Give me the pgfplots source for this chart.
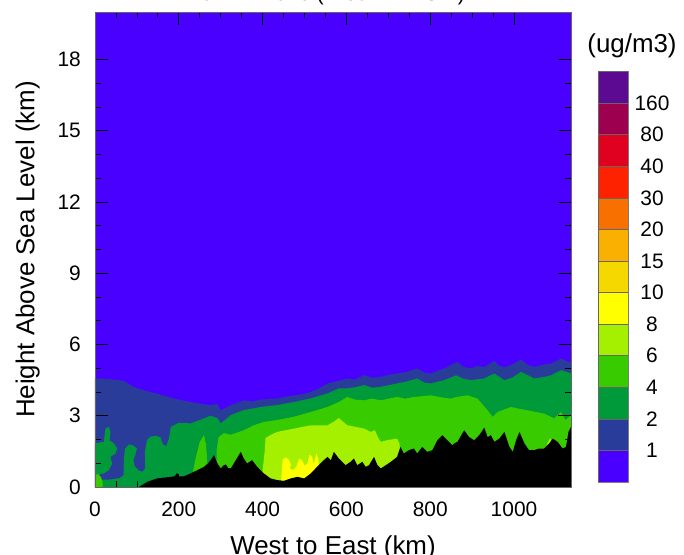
\documentclass[border=0pt]{standalone}
\usepackage{fontspec}
\setmainfont{Liberation Sans}
\usepackage{pgfplots}
\pgfplotsset{compat=1.18}
\usetikzlibrary{calc}

% colour table of the 13 bins, top to bottom
\definecolor{cA}{HTML}{5B0A91}
\definecolor{cB}{HTML}{9E0050}
\definecolor{cC}{HTML}{E00020}
\definecolor{cD}{HTML}{FF2200}
\definecolor{cE}{HTML}{F77000}
\definecolor{cF}{HTML}{F9B000}
\definecolor{cG}{HTML}{F5D800}
\definecolor{cH}{HTML}{FFFF00}
\definecolor{cI}{HTML}{A5F000}
\definecolor{cJ}{HTML}{38CC00}
\definecolor{cK}{HTML}{009A3A}
\definecolor{cL}{HTML}{2A3C9A}
\definecolor{cM}{HTML}{4A00FF}

\newcommand\ticksz{\fontsize{21}{24}\selectfont}
\newcommand\labsz{\fontsize{26}{30}\selectfont}

\begin{document}
\begin{tikzpicture}
\begin{axis}[
  name=ax, at={(0,0)}, anchor=south west,
  scale only axis, width=476bp, height=475bp,
  xmin=0, xmax=1136, ymin=0, ymax=20,
  xtick={0,200,...,1000}, minor x tick num=3,
  ytick={0,3,...,18}, minor y tick num=2,
  tick align=inside, tick pos=both,
  major tick length=13bp, minor tick length=6bp,
  tick style={black, line width=0.8pt},
  axis line style={draw=black!60, line width=0.7pt},
  axis background/.style={fill=cM},
  axis on top,
  /pgf/number format/assume math mode=true,
  /pgf/number format/1000 sep={},
  xticklabel style={font=\ticksz, anchor=north, inner sep=0pt, yshift=-15bp},
  yticklabel style={font=\ticksz, anchor=east, inner sep=0pt, xshift=-14bp},
  xlabel={West to East (km)},
  ylabel={Height Above Sea Level (km)},
  xlabel style={font=\labsz, at={(axis description cs:0.5,-0.103)}, anchor=north, inner sep=0pt},
  ylabel style={font=\labsz, at={(axis description cs:-0.167,0.5)}, anchor=north, inner sep=0pt},
  title={07-12-2016 ( Hour 11 PST )},
  title style={font=\fontsize{21.5}{24}\selectfont, at={(axis description cs:0.5,1.0126)}, anchor=base, inner sep=0pt},
]
% 1-2 layer
\addplot[fill=cL, draw=none] coordinates {
 (0,4.57) (30,4.55) (55,4.5) (69,4.47) (92,4.21) (120,4.05) (148,3.93) (188,3.72)
 (228,3.58) (276,3.44) (292,3.5) (300,3.23) (324,3.44) (355,3.65) (375,3.6) (395,3.68)
 (435,3.72) (455,3.8) (475,3.86) (495,3.9) (515,4.0) (535,4.15) (555,4.36) (582,4.47)
 (602,4.57) (620,4.52) (642,4.71) (662,4.6) (682,4.64) (700,4.72) (721,4.78) (745,4.85)
 (769,4.99) (785,4.82) (801,4.78) (818,4.9) (833,4.99) (849,5.13) (865,5.26) (880,5.05)
 (897,4.99) (913,5.1) (929,5.05) (953,5.31) (965,5.1) (977,5.05) (995,5.15) (1017,5.37)
 (1032,5.15) (1048,5.05) (1068,5.15) (1088,5.2) (1100,5.3) (1112,5.41) (1125,5.3) (1136,5.26)
 (1136,0) (0,0)};
% 2-4 layer, main body
\addplot[fill=cK, draw=none] coordinates {
 (181,2.53) (200,2.7) (228,2.68) (250,2.82) (276,3.0) (292,2.9) (300,2.68) (312,2.85)
 (324,3.03) (355,3.24) (375,3.3) (395,3.37) (435,3.45) (475,3.58) (515,3.73) (555,3.94)
 (582,4.15) (602,4.15) (620,4.2) (642,4.29) (662,4.18) (682,4.22) (721,4.36) (745,4.45)
 (769,4.57) (785,4.4) (801,4.36) (833,4.5) (862,4.7) (880,4.55) (897,4.5) (929,4.57)
 (953,4.78) (977,4.5) (995,4.6) (1017,4.85) (1048,4.57) (1068,4.62) (1088,4.7) (1112,4.92)
 (1136,4.78) (1136,0) (10,0) (10,0.3) (40,0.32) (60,0.38) (68,0.5) (69,1.2) (72,1.62)
 (80,1.78) (90,1.76) (100,1.62) (96,1.34) (92,1.15) (94,0.9) (104,0.7) (114,0.64)
 (120,0.8) (119,1.5) (124,1.97) (132,2.12) (145,2.15) (156,2.1) (162,1.8) (170,1.72) (176,2.0)};
% 2-4 layer, patch at the western edge
\addplot[fill=cK, draw=none] coordinates {
 (0,1.84) (21,1.9) (25,2.46) (33,2.53) (37,2.32) (35,1.97) (45,1.84) (53,1.62) (49,1.41)
 (37,1.27) (41,0.99) (33,0.71) (21,0.57) (0,0.5)};
% 4-6 layer
\addplot[fill=cJ, draw=none] coordinates {
 (0,0) (0,0.5) (8,0.55) (15,0.4) (18,0.2) (18,0)};
\addplot[fill=cJ, draw=none] coordinates {
 (225,0) (232,0.5) (240,1.2) (250,1.9) (260,2.18) (265,1.8) (268,1.0) (272,0.8) (272,0)};
\addplot[fill=cJ, draw=none] coordinates {
 (290,0) (290,1.5) (295,2.1) (308,2.27) (324,2.2) (355,2.39) (379,2.6) (403,2.74)
 (435,2.82) (475,2.96) (515,3.16) (555,3.37) (582,3.58) (602,3.79) (620,3.68) (642,3.65)
 (660,3.72) (682,3.65) (721,3.79) (740,3.72) (761,3.79) (801,3.86) (825,3.78) (849,3.72)
 (862,3.79) (889,3.86) (913,3.72) (937,3.23) (949,2.95) (961,3.16) (993,3.37) (1010,3.3)
 (1033,3.23) (1072,3.09) (1096,2.89) (1112,3.16) (1123,2.82) (1136,3.03) (1136,0)};
% 6-8 layer
\addplot[fill=cI, draw=none] coordinates {
 (398,0) (400,0.7) (405,1.5) (407,2.06) (420,2.2) (435,2.32) (475,2.46) (515,2.6) (555,2.6)
 (570,2.75) (582,2.9) (592,2.75) (602,2.6) (642,2.46) (658,2.32) (668,2.39) (675,2.1)
 (682,1.9) (697,1.97) (721,2.04) (727,1.8) (729,1.0) (729,0)};
\addplot[fill=cI, draw=none] coordinates {
 (1076,1.6) (1080,1.85) (1086,2.05) (1090,1.95) (1089,1.6)};
% 8-10 layer
\addplot[fill=cH, draw=none] coordinates {
 (443,0) (445,0.5) (448,1.15) (455,1.25) (462,1.15) (468,0.95) (465,0.8) (472,0.7)
 (480,0.85) (488,1.2) (495,1.1) (500,0.9) (507,1.0) (512,1.35) (518,1.3) (522,0.95)
 (528,1.4) (533,1.2) (535,0.6) (540,0.3) (540,0)};
% terrain
\addplot[fill=black, draw=none] coordinates {
 (0,0) (105,0) (112,0.08) (125,0.22) (148,0.36) (172,0.41) (190,0.45) (196,0.6) (200,0.45)
 (212,0.45) (228,0.57) (244,0.71) (260,0.85) (270,1.0) (276,1.13) (284,1.34) (292,1.0)
 (300,0.78) (306,0.9) (312,0.95) (318,0.8) (324,0.78) (336,1.13) (348,1.48) (355,1.2)
 (363,0.99) (375,1.13) (387,0.85) (403,0.57) (419,0.36) (435,0.29) (451,0.26) (467,0.36)
 (483,0.43) (499,0.36) (515,0.57) (530,0.85) (546,1.13) (555,1.27) (563,1.13) (570,1.48)
 (582,1.2) (598,0.92) (610,1.06) (618,1.2) (626,0.92) (638,1.06) (646,0.85) (654,0.92)
 (666,1.27) (674,0.92) (682,0.78) (694,0.92) (706,1.06) (721,1.27) (729,1.69) (737,1.41)
 (749,1.55) (761,1.62) (769,1.41) (781,1.69) (793,1.48) (805,1.55) (817,1.97) (829,2.18)
 (841,1.97) (853,1.76) (857,1.83) (865,1.9) (881,2.39) (893,2.1) (905,1.97) (917,2.18)
 (929,2.5) (937,2.1) (945,2.18) (953,1.9) (965,2.04) (977,2.32) (989,1.69) (997,1.48)
 (1005,1.97) (1013,2.32) (1025,1.83) (1036,1.55) (1048,1.55) (1060,1.62) (1072,1.62)
 (1084,1.83) (1092,2.04) (1104,1.9) (1116,1.62) (1124,1.69) (1130,2.32) (1136,2.53) (1136,0)};
\end{axis}

% colour bar
\begin{axis}[
  at={($(ax.south west)+(503bp,5bp)$)}, anchor=south west,
  scale only axis, width=30bp, height=410.5bp,
  xmin=0, xmax=1, ymin=0, ymax=13,
  ybar stacked, bar width=30bp,
  xtick=\empty, ytick={1,...,12},
  yticklabels={1,2,4,6,8,10,15,20,30,40,80,160},
  yticklabel pos=right, major tick length=0pt,
  yticklabel style={font=\ticksz, anchor=center, inner sep=0pt, xshift=24bp},
  axis line style={draw=black!50, line width=0.6pt},
  title={(ug/m3)},
  title style={font=\labsz, at={(0.5,1)}, anchor=base, inner sep=0pt, yshift=12.7bp, xshift=19bp},
]
\addplot[fill=cM, draw=black!60, line width=0.4pt] coordinates {(0.5,1)};
\addplot[fill=cL, draw=black!60, line width=0.4pt] coordinates {(0.5,1)};
\addplot[fill=cK, draw=black!60, line width=0.4pt] coordinates {(0.5,1)};
\addplot[fill=cJ, draw=black!60, line width=0.4pt] coordinates {(0.5,1)};
\addplot[fill=cI, draw=black!60, line width=0.4pt] coordinates {(0.5,1)};
\addplot[fill=cH, draw=black!60, line width=0.4pt] coordinates {(0.5,1)};
\addplot[fill=cG, draw=black!60, line width=0.4pt] coordinates {(0.5,1)};
\addplot[fill=cF, draw=black!60, line width=0.4pt] coordinates {(0.5,1)};
\addplot[fill=cE, draw=black!60, line width=0.4pt] coordinates {(0.5,1)};
\addplot[fill=cD, draw=black!60, line width=0.4pt] coordinates {(0.5,1)};
\addplot[fill=cC, draw=black!60, line width=0.4pt] coordinates {(0.5,1)};
\addplot[fill=cB, draw=black!60, line width=0.4pt] coordinates {(0.5,1)};
\addplot[fill=cA, draw=black!60, line width=0.4pt] coordinates {(0.5,1)};
\end{axis}

\pgfresetboundingbox
\path[use as bounding box] ($(ax.south west)+(-95bp,-68bp)$) rectangle ($(ax.south west)+(589bp,487bp)$);
\end{tikzpicture}
\end{document}
